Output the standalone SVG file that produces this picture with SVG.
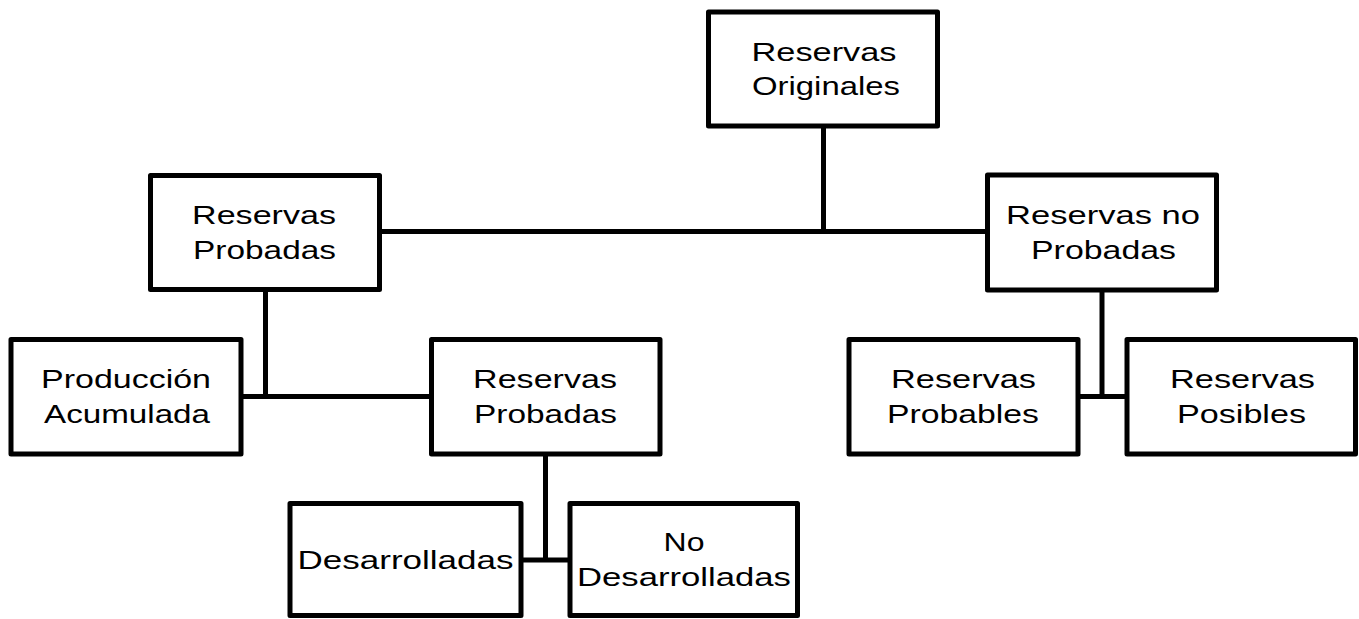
<svg xmlns="http://www.w3.org/2000/svg" width="1359" height="619" viewBox="0 0 1359 619">
<style>
.box{fill:#fff;stroke:#000;stroke-width:5;stroke-linejoin:round}
.conn{fill:none;stroke:#000;stroke-width:5}
text{font-family:"Liberation Sans",Arial,sans-serif;font-size:26px;fill:#000;text-anchor:middle}
</style>
<rect width="1359" height="619" fill="#fff"/>
<g id="connectors">
<path class="conn" d="M823.5 126 V231.5"/>
<path class="conn" d="M379.5 231.5 H987.5"/>
<path class="conn" d="M265.5 289.5 V396.5"/>
<path class="conn" d="M241 396.5 H431.5"/>
<path class="conn" d="M545.5 454 V560"/>
<path class="conn" d="M521 560 H570"/>
<path class="conn" d="M1102 290 V396.5"/>
<path class="conn" d="M1078 396.5 H1127"/>
</g>
<g id="n1">
<rect class="box" x="708.5" y="12" width="229" height="114"/>
<text transform="translate(824 60.5) scale(1.321 1)">Reservas</text>
<text transform="translate(826 94.5) scale(1.265 1)">Originales</text>
</g>
<g id="n2">
<rect class="box" x="150.5" y="175.5" width="229" height="114"/>
<text transform="translate(264 224) scale(1.311 1)">Reservas</text>
<text transform="translate(264.5 259) scale(1.285 1)">Probadas</text>
</g>
<g id="n3">
<rect class="box" x="987.5" y="175" width="229" height="115"/>
<text transform="translate(1103 224) scale(1.33 1)">Reservas no</text>
<text transform="translate(1103.5 259) scale(1.303 1)">Probadas</text>
</g>
<g id="n4">
<rect class="box" x="11" y="339.5" width="230" height="114.5"/>
<text transform="translate(126 388) scale(1.307 1)">Producción</text>
<text transform="translate(127 423) scale(1.276 1)">Acumulada</text>
</g>
<g id="n5">
<rect class="box" x="431.5" y="339.5" width="228.5" height="114.5"/>
<text transform="translate(545 388) scale(1.311 1)">Reservas</text>
<text transform="translate(545.5 423) scale(1.285 1)">Probadas</text>
</g>
<g id="n6">
<rect class="box" x="849" y="339.5" width="229" height="114.5"/>
<text transform="translate(963.5 388) scale(1.321 1)">Reservas</text>
<text transform="translate(963 423) scale(1.298 1)">Probables</text>
</g>
<g id="n7">
<rect class="box" x="1127" y="339.5" width="228.5" height="114.5"/>
<text transform="translate(1242.5 388) scale(1.321 1)">Reservas</text>
<text transform="translate(1241.5 423) scale(1.313 1)">Posibles</text>
</g>
<g id="n8">
<rect class="box" x="290" y="503.5" width="231" height="112"/>
<text transform="translate(405.5 569) scale(1.347 1)">Desarrolladas</text>
</g>
<g id="n9">
<rect class="box" x="570" y="503.5" width="227.5" height="112"/>
<text transform="translate(684 551) scale(1.23 1)">No</text>
<text transform="translate(684 586) scale(1.334 1)">Desarrolladas</text>
</g>
</svg>
